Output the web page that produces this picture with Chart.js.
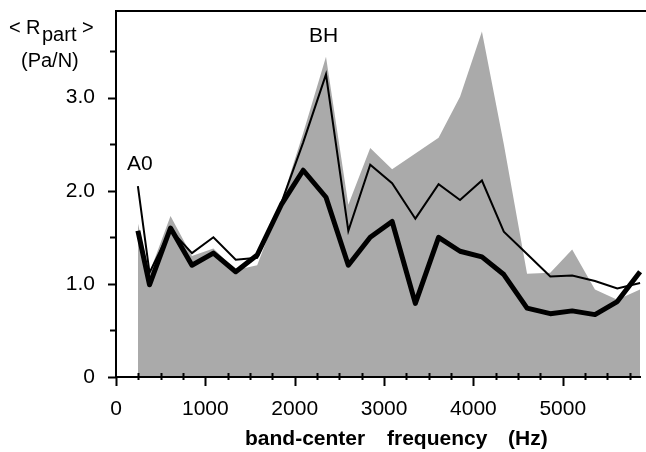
<!DOCTYPE html>
<html>
<head>
<meta charset="utf-8">
<script src="https://cdn.jsdelivr.net/npm/chart.js@4.4.1/dist/chart.umd.min.js"></script>
<style>
  html, body { margin: 0; padding: 0; background: #ffffff; }
  #wrap { width: 646px; height: 452px; }
</style>
</head>
<body>
<div id="wrap"><canvas id="rpartChart" width="646" height="452"></canvas></div>
<script>
// band-center frequencies (Hz)
const bandFreqs = [245, 375, 610, 850, 1090, 1340, 1580, 1850, 2095, 2350, 2600, 2845,
                   3090, 3350, 3610, 3850, 4095, 4340, 4600, 4860, 5105, 5360, 5610, 5865];

// grey area (upper envelope)
const greyArea = [1.65, 1.12, 1.73, 1.30, 1.38, 1.15, 1.20, 1.88, 2.62, 3.44, 1.85, 2.46,
                  2.23, 2.40, 2.57, 3.01, 3.71, 2.50, 1.11, 1.12, 1.37, 0.94, 0.83, 0.94];

// thin black line
const thinLine = [2.05, 1.12, 1.58, 1.33, 1.50, 1.26, 1.28, 1.87, 2.52, 3.25, 1.57, 2.28,
                  2.08, 1.70, 2.07, 1.90, 2.11, 1.56, 1.32, 1.08, 1.09, 1.03, 0.95, 1.01];

// thick black line
const thickLine = [1.57, 0.99, 1.60, 1.20, 1.33, 1.13, 1.31, 1.85, 2.22, 1.93, 1.20, 1.50,
                   1.67, 0.79, 1.50, 1.35, 1.29, 1.10, 0.74, 0.68, 0.71, 0.67, 0.81, 1.13];

// tick labels
const xTickLabels = [0, 1000, 2000, 3000, 4000, 5000];
const yTickValues = [0, 1, 2, 3];
const yTickLabels = ['0', '1.0', '2.0', '3.0'];

const FONT = "'Liberation Sans', Arial, sans-serif";

document.addEventListener('DOMContentLoaded', function() {
    Chart.defaults.font.family = FONT;
    Chart.defaults.color = '#000';
    initializeRpartChart();
});

function toPoints(values) {
    return bandFreqs.map((f, i) => ({ x: f, y: values[i] }));
}

// axis frame + major/minor tick marks
const framePlugin = {
    id: 'frame',
    afterDraw(chart) {
        const { ctx, chartArea } = chart;
        const xs = chart.scales.x, ys = chart.scales.y;
        const left = chartArea.left, bottom = chartArea.bottom;
        ctx.save();
        ctx.strokeStyle = '#000';
        ctx.lineWidth = 2;
        ctx.beginPath();
        ctx.moveTo(chart.width, chartArea.top);
        ctx.lineTo(left, chartArea.top);
        ctx.lineTo(left, bottom);
        ctx.lineTo(chartArea.right - 4, bottom);
        ctx.stroke();

        // x ticks every 250 Hz
        ctx.beginPath();
        for (let v = 0; v <= 5750; v += 250) {
            const px = Math.round(xs.getPixelForValue(v)) + 0.5;
            if (xTickLabels.includes(v)) {
                ctx.moveTo(px, bottom);
                ctx.lineTo(px, bottom + 9);
            } else {
                ctx.moveTo(px, bottom - 4);
                ctx.lineTo(px, bottom + 3);
            }
        }
        // y ticks every 0.5
        for (let v = 0; v <= 3.5; v += 0.5) {
            const py = Math.round(ys.getPixelForValue(v)) + 0.5;
            const len = Number.isInteger(v) ? 8 : 6;
            ctx.moveTo(left, py);
            ctx.lineTo(left - len, py);
        }
        ctx.stroke();
        ctx.restore();
    }
};

// axis titles (with subscript) and peak annotations
const labelsPlugin = {
    id: 'labels',
    afterDraw(chart) {
        const ctx = chart.ctx;
        ctx.save();
        ctx.fillStyle = '#000';
        ctx.textBaseline = 'alphabetic';
        ctx.textAlign = 'left';
        ctx.font = '20px ' + FONT;
        ctx.fillText('<', 9, 34);
        ctx.fillText('R', 26, 34);
        ctx.fillText('part', 42, 41);
        ctx.fillText('>', 82, 34);
        ctx.fillText('(Pa/N)', 21, 67);
        ctx.font = '21px ' + FONT;
        ctx.fillText('A0', 127, 170);
        ctx.fillText('BH', 309, 42);

        ctx.font = 'bold 21px ' + FONT;
        ctx.fillText('band-center', 245, 445);
        ctx.fillText('frequency', 387, 445);
        ctx.fillText('(Hz)', 508, 445);
        ctx.restore();
    }
};

function initializeRpartChart() {
    const ctx = document.getElementById('rpartChart').getContext('2d');

    new Chart(ctx, {
        type: 'line',
        data: {
            datasets: [
                {
                    label: 'envelope',
                    data: toPoints(greyArea),
                    borderWidth: 0,
                    borderColor: 'rgba(0,0,0,0)',
                    backgroundColor: '#aaaaaa',
                    pointRadius: 0,
                    fill: 'origin',
                    order: 3
                },
                {
                    label: 'thin',
                    data: toPoints(thinLine),
                    borderColor: '#000',
                    borderWidth: 2,
                    pointRadius: 0,
                    fill: false,
                    order: 2
                },
                {
                    label: 'thick',
                    data: toPoints(thickLine),
                    borderColor: '#000',
                    borderWidth: 5,
                    borderJoinStyle: 'round',
                    pointRadius: 0,
                    fill: false,
                    order: 1
                }
            ]
        },
        options: {
            responsive: false,
            animation: false,
            layout: {
                padding: { left: 0, right: 1, top: 11, bottom: 0 }
            },
            scales: {
                x: {
                    type: 'linear',
                    min: 0,
                    max: 5920,
                    border: { display: false },
                    grid: { display: false },
                    ticks: {
                        stepSize: 250,
                        autoSkip: false,
                        maxRotation: 0,
                        padding: 12,
                        font: { size: 21 },
                        callback: function(value) {
                            return xTickLabels.includes(value) ? String(value) : '';
                        }
                    },
                    afterFit: function(scale) {
                        scale.height = 75;
                        scale.paddingLeft = 0;
                        scale.paddingRight = 0;
                    }
                },
                y: {
                    min: 0,
                    max: 3.93,
                    border: { display: false },
                    grid: { display: false },
                    ticks: {
                        stepSize: 0.5,
                        padding: 13,
                        font: { size: 21 },
                        callback: function(value) {
                            const i = yTickValues.indexOf(value);
                            return i >= 0 ? yTickLabels[i] : '';
                        }
                    },
                    afterFit: function(scale) {
                        scale.width = 116;
                        scale.paddingTop = 0;
                        scale.paddingBottom = 0;
                    }
                }
            },
            plugins: {
                legend: { display: false },
                tooltip: { enabled: false }
            }
        },
        plugins: [framePlugin, labelsPlugin]
    });
}
</script>
</body>
</html>
